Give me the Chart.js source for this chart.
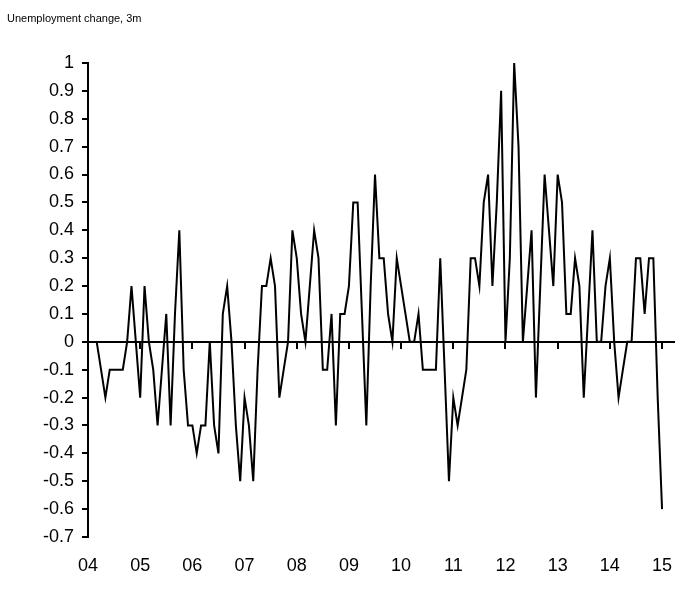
<!DOCTYPE html>
<html>
<head>
<meta charset="utf-8">
<script src="https://cdn.jsdelivr.net/npm/chart.js@4/dist/chart.umd.min.js"></script>
<style>
html,body{margin:0;padding:0;background:#fff;}
canvas{display:block;}
</style>
</head>
<body>
<canvas id="c" width="695" height="591"></canvas>
<script>
// ---- data (monthly, 3-month change in unemployment) ----
const chartTitle = 'Unemployment change, 3m';
const yearLabels = ['04','05','06','07','08','09','10','11','12','13','14','15'];
const yTickValues = [-0.7,-0.6,-0.5,-0.4,-0.3,-0.2,-0.1,0,0.1,0.2,0.3,0.4,0.5,0.6,0.7,0.8,0.9,1];
const firstMonthOf2004 = 2; // series starts in March 2004 (0 = January 2004)
const values2004 = [0, -0.1, -0.2, -0.1, -0.1, -0.1, -0.1, 0, 0.2, 0];
const values2005 = [-0.2, 0.2, 0, -0.1, -0.3, -0.1, 0.1, -0.3, 0.1, 0.4, -0.1, -0.3];
const values2006 = [-0.3, -0.4, -0.3, -0.3, 0, -0.3, -0.4, 0.1, 0.2, 0, -0.3, -0.5];
const values2007 = [-0.2, -0.3, -0.5, -0.1, 0.2, 0.2, 0.3, 0.2, -0.2, -0.1, 0, 0.4];
const values2008 = [0.3, 0.1, 0, 0.2, 0.4, 0.3, -0.1, -0.1, 0.1, -0.3, 0.1, 0.1];
const values2009 = [0.2, 0.5, 0.5, 0.1, -0.3, 0.2, 0.6, 0.3, 0.3, 0.1, 0, 0.3];
const values2010 = [0.2, 0.1, 0, 0, 0.1, -0.1, -0.1, -0.1, -0.1, 0.3, -0.1, -0.5];
const values2011 = [-0.2, -0.3, -0.2, -0.1, 0.3, 0.3, 0.2, 0.5, 0.6, 0.2, 0.5, 0.9];
const values2012 = [0, 0.3, 1.0, 0.7, 0, 0.2, 0.4, -0.2, 0.2, 0.6, 0.4, 0.2];
const values2013 = [0.6, 0.5, 0.1, 0.1, 0.3, 0.2, -0.2, 0.1, 0.4, 0, 0, 0.2];
const values2014 = [0.3, 0, -0.2, -0.1, 0, 0, 0.3, 0.3, 0.1, 0.3, 0.3, -0.2];
const values2015 = [-0.6];

// ---- build points from the arrays ----
const yearly = [values2004, values2005, values2006, values2007, values2008, values2009,
                values2010, values2011, values2012, values2013, values2014, values2015];
const points = [];
yearly.forEach((arr, yi) => {
  const start = yi === 0 ? firstMonthOf2004 : yi * 12;
  arr.forEach((v, k) => points.push({x: start + k, y: v}));
});
const yearTickValues = yearLabels.map((_, i) => i * 12);

const FONT = 'Liberation Sans, Arial, Helvetica, sans-serif';
const X_MAX = 134.75;

new Chart(document.getElementById('c'), {
  type: 'line',
  data: {
    datasets: [{
      data: points,
      borderColor: '#000',
      borderWidth: 2,
      pointRadius: 0,
      tension: 0,
      fill: false
    }]
  },
  options: {
    responsive: false,
    devicePixelRatio: 1,
    animation: false,
    layout: { padding: { left: 7, right: 21, top: 0, bottom: 0 } },
    plugins: {
      legend: { display: false },
      tooltip: { enabled: false },
      title: {
        display: true,
        text: chartTitle,
        align: 'start',
        color: '#000',
        font: { family: FONT, size: 11, weight: 'normal' },
        padding: { top: 12, bottom: 37.8 }
      }
    },
    scales: {
      x: {
        type: 'linear',
        position: 'bottom',
        min: 0,
        max: X_MAX,
        grid: { display: false },
        border: { display: false },
        afterBuildTicks: s => { s.ticks = yearTickValues.map(v => ({value: v})); },
        afterFit: s => { s.height = 54; },
        ticks: {
          color: '#000',
          font: { family: FONT, size: 18 },
          padding: 10,
          maxRotation: 0,
          autoSkip: false,
          callback: v => yearLabels[Math.round(v / 12)]
        }
      },
      x0: {
        type: 'linear',
        axis: 'x',
        position: { y: 0 },
        min: 0,
        max: X_MAX,
        grid: { display: true, drawOnChartArea: false, drawTicks: true, tickLength: 6, color: '#000', lineWidth: 2 },
        border: { display: true, color: '#000', width: 2 },
        afterBuildTicks: s => { s.ticks = yearTickValues.map(v => ({value: v})); },
        ticks: { display: false }
      },
      y: {
        type: 'linear',
        position: 'left',
        min: -0.7,
        max: 1,
        afterBuildTicks: s => { s.ticks = yTickValues.map(v => ({value: v})); },
        afterFit: s => { s.width = 81; },
        grid: { display: true, drawOnChartArea: false, drawTicks: true, tickLength: 6, color: '#000', lineWidth: 2 },
        border: { display: true, color: '#000', width: 2 },
        ticks: {
          color: '#000',
          font: { family: FONT, size: 18 },
          padding: 8,
          autoSkip: false,
          callback: v => String(Number(Number(v).toFixed(1)))
        }
      }
    }
  }
});
</script>
</body>
</html>
